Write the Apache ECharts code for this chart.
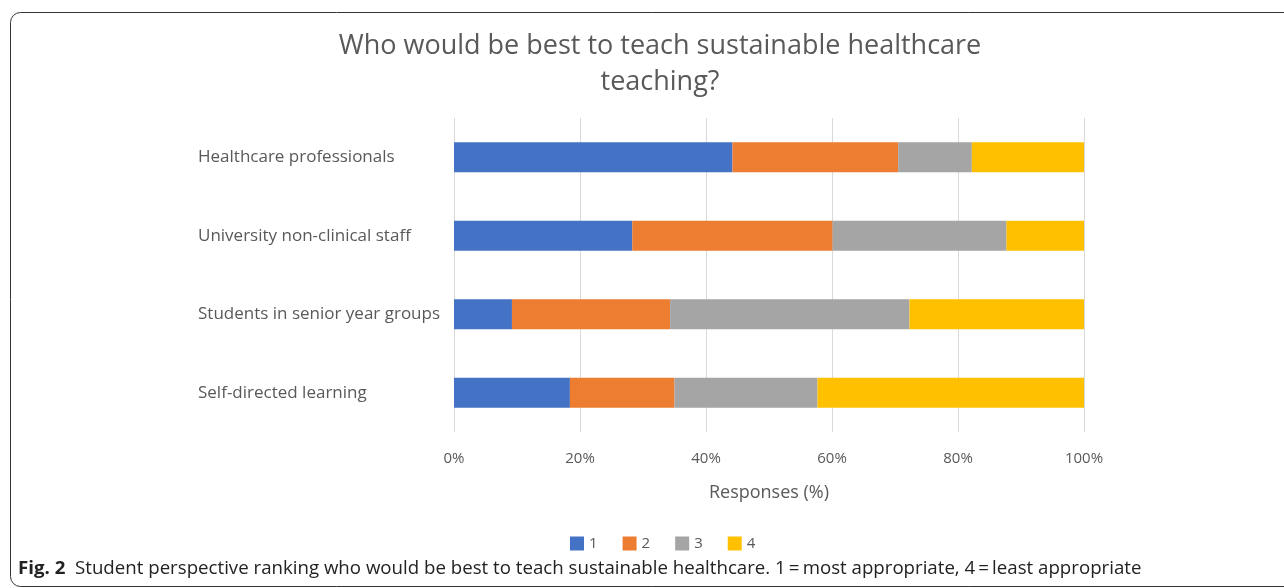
<!DOCTYPE html>
<html lang="en">
	<head>
		<meta charset="UTF-8" />
		<title>Who would be best to teach sustainable healthcare teaching?</title>
		<script src="https://cdn.jsdelivr.net/npm/echarts@6/dist/echarts.min.js"></script>
		<style>
			html, body { margin: 0; padding: 0; background: #fff; }
		</style>
	</head>
	<body>
		<div id="myChart" style="width: 1284px; height: 588px"></div>

		<script>
			const categories = [
				"Healthcare professionals",
				"University non-clinical staff",
				"Students in senior year groups",
				"Self-directed learning",
			];
			const rankNames = ["1", "2", "3", "4"];
			const rank1 = [44.2, 28.3, 9.2, 18.4];
			const rank2 = [26.3, 31.8, 25.1, 16.6];
			const rank3 = [11.7, 27.6, 38.0, 22.7];
			const rank4 = [17.8, 12.3, 27.7, 42.3];
			const xTicks = [0, 20, 40, 60, 80, 100];

			const colors = ["#4472C4", "#ED7D31", "#A5A5A5", "#FFC000"];
			const font = "Open Sans";
			const grey = "#595959";

			const myChart = echarts.init(document.getElementById("myChart"));

			const seriesData = [rank1, rank2, rank3, rank4].map((values, i) => ({
				name: rankNames[i],
				type: "bar",
				stack: "total",
				barWidth: 30,
				data: values,
				itemStyle: { color: colors[i] },
			}));

			const option = {
				animation: false,
				color: colors,
				textStyle: { fontFamily: font },
				title: {
					text: "Who would be best to teach sustainable healthcare\nteaching?",
					left: 655,
					top: 23,
					textAlign: "center",
					textStyle: {
						fontFamily: font,
						fontSize: 27,
						fontWeight: "normal",
						color: grey,
						lineHeight: 36,
					},
				},
				grid: { left: 454, right: 200, top: 118, bottom: 156 },
				xAxis: {
					type: "value",
					min: xTicks[0],
					max: xTicks[xTicks.length - 1],
					interval: 20,
					name: "Responses (%)",
					nameLocation: "middle",
					nameGap: 52,
					nameTextStyle: { fontFamily: font, fontSize: 18, color: grey },
					axisLine: { show: false },
					axisTick: { show: false },
					axisLabel: {
						formatter: "{value}%",
						fontFamily: font,
						fontSize: 15,
						color: grey,
						margin: 19,
					},
					splitLine: { show: true, lineStyle: { color: "#d9d9d9", width: 1 } },
				},
				yAxis: {
					type: "category",
					data: categories,
					inverse: true,
					axisLine: { show: false },
					axisTick: { show: false },
					axisLabel: {
						align: "left",
						margin: 256,
						fontFamily: font,
						fontSize: 17,
						color: grey,
					},
				},
				legend: {
					data: rankNames,
					left: 565,
					top: 531,
					itemWidth: 14,
					itemHeight: 14,
					itemGap: 25,
					icon: "rect",
					textStyle: { fontFamily: font, fontSize: 15, color: grey },
				},
				graphic: [
					{
						type: "rect",
						shape: { x: 10.5, y: 12.5, width: 1300, height: 574, r: 10 },
						style: { fill: "none", stroke: "#333", lineWidth: 1 },
						silent: true,
					},
					{
						type: "text",
						x: 18,
						y: 569,
						scaleX: 1.037,
						style: {
							text: "{b|Fig. 2}  Student perspective ranking who would be best to teach sustainable healthcare. 1\u2009=\u2009most appropriate, 4\u2009=\u2009least appropriate",
							font: "18px 'Open Sans'",
							fill: "#222",
							align: "left",
							verticalAlign: "middle",
							rich: {
								b: { fontWeight: "bold", fontSize: 18, fontFamily: font, fill: "#222" },
							},
						},
					},
				],
				series: seriesData,
			};

			myChart.setOption(option);
		</script>
	</body>
</html>
